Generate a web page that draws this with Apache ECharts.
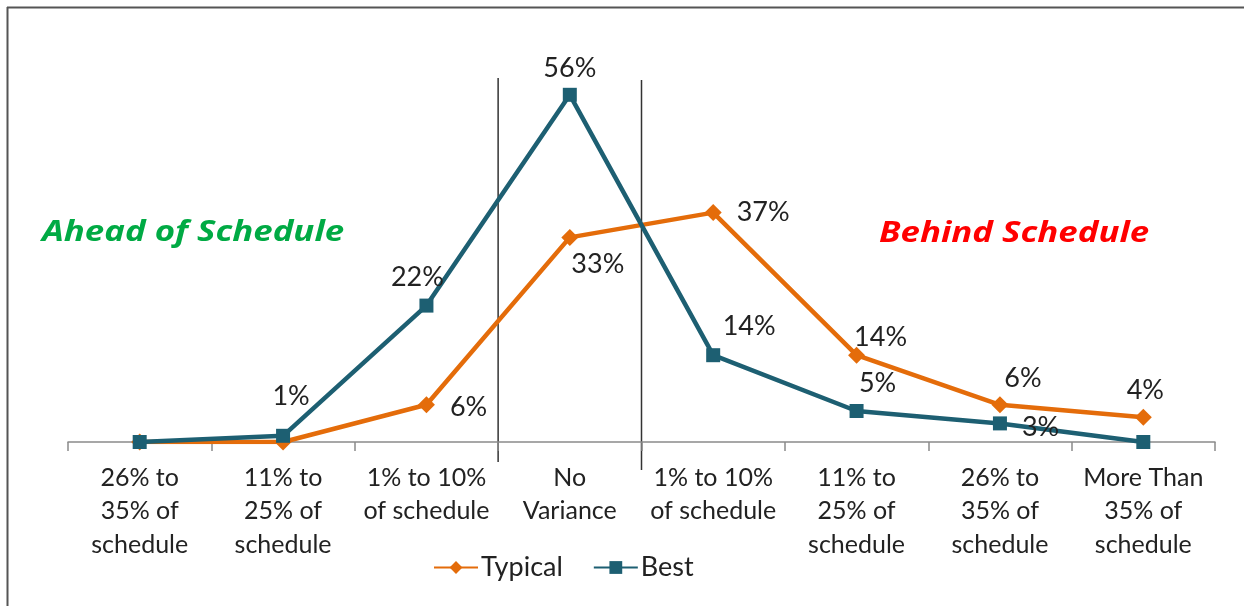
<!DOCTYPE html>
<html>
<head>
<meta charset="utf-8">
<script src="https://cdn.jsdelivr.net/npm/echarts@6/dist/echarts.min.js"></script>
<style>
  html, body { margin: 0; padding: 0; background: #fff; }
  #main { width: 1244px; height: 606px; }
</style>
</head>
<body>
<div id="main"></div>
<script>
// 数据
var categories = ['26% to\n35% of\nschedule', '11% to\n25% of\nschedule', '1% to 10%\nof schedule', 'No\nVariance',
                  '1% to 10%\nof schedule', '11% to\n25% of\nschedule', '26% to\n35% of\nschedule', 'More Than\n35% of\nschedule'];
var typical = [0, 0, 6, 33, 37, 14, 6, 4];
var best = [0, 1, 22, 56, 14, 5, 3, 0];

var fontFam = 'Lato, "Open Sans", sans-serif';
var orange = '#E46C0A';
var teal = '#1D5F72';

// 每个点标签的位置
var typicalLabel = [
    {show: false}, {show: false},
    {position: 'right', offset: [10, 2]},
    {position: 'bottom', offset: [28, 0]},
    {position: 'right', offset: [10, 0]},
    {position: 'top', offset: [24, 9]},
    {position: 'top', offset: [23, 0]},
    {position: 'top', offset: [2, 0]}
];
var bestLabel = [
    {show: false},
    {position: 'top', offset: [8, -14]},
    {position: 'top', offset: [-9, -3]},
    {position: 'top', offset: [0, -1]},
    {position: 'top', offset: [36, -3]},
    {position: 'top', offset: [21, -2]},
    {position: 'right', offset: [10, 4]},
    {show: false}
];

function build(values, labels) {
    return values.map(function (v, i) {
        return {value: v, label: labels[i]};
    });
}

var myChart = echarts.init(document.getElementById('main'));

var option = {
    animation: false,
    textStyle: {fontFamily: fontFam},
    grid: {left: 68, right: 29, top: 70, bottom: 164},
    legend: {
        bottom: 20,
        left: 428,
        itemWidth: 44,
        itemHeight: 16,
        itemGap: 30,
        textStyle: {fontSize: 27, color: '#222', fontFamily: fontFam, padding: [0, 0, 0, -2]},
        data: ['Typical', 'Best']
    },
    xAxis: {
        type: 'category',
        data: categories,
        axisLine: {lineStyle: {color: '#8a8a8a', width: 1.5}},
        axisTick: {show: true, length: 9, lineStyle: {color: '#8a8a8a', width: 1.5}},
        axisLabel: {
            interval: 0,
            color: '#222',
            fontSize: 25,
            lineHeight: 33.5,
            margin: 19,
            fontFamily: fontFam
        }
    },
    yAxis: {
        type: 'value',
        min: 0,
        max: 60,
        show: false
    },
    series: [
        {
            name: 'Typical',
            type: 'line',
            data: build(typical, typicalLabel),
            symbol: 'diamond',
            symbolSize: 17,
            lineStyle: {color: orange, width: 4.5},
            itemStyle: {color: orange},
            label: {show: true, formatter: '{c}%', fontSize: 27, color: '#222', fontFamily: fontFam},
            z: 3
        },
        {
            name: 'Best',
            type: 'line',
            data: build(best, bestLabel),
            symbol: 'rect',
            symbolSize: 14,
            lineStyle: {color: teal, width: 4.5},
            itemStyle: {color: teal},
            label: {show: true, formatter: '{c}%', fontSize: 27, color: '#222', fontFamily: fontFam},
            z: 4
        }
    ]
};

myChart.setOption(option);

// 分隔线和文字注释
var x1 = (myChart.convertToPixel({xAxisIndex: 0}, 2) + myChart.convertToPixel({xAxisIndex: 0}, 3)) / 2;
var x2 = (myChart.convertToPixel({xAxisIndex: 0}, 3) + myChart.convertToPixel({xAxisIndex: 0}, 4)) / 2;

myChart.setOption({
    graphic: [
        {type: 'line', shape: {x1: 7, y1: 7.5, x2: 1244, y2: 7.5}, style: {stroke: '#555', lineWidth: 2}},
        {type: 'line', shape: {x1: 7.5, y1: 7, x2: 7.5, y2: 606}, style: {stroke: '#555', lineWidth: 2}},
        {type: 'line', shape: {x1: x1, y1: 78, x2: x1, y2: 462}, style: {stroke: '#333', lineWidth: 1.5}},
        {type: 'line', shape: {x1: x2, y1: 80, x2: x2, y2: 470}, style: {stroke: '#333', lineWidth: 1.5}},
        {type: 'text', x: 42, y: 218, scaleX: 1.2, style: {text: 'Ahead of Schedule', fill: '#00AA44',
            font: 'italic bold 29px "Open Sans", sans-serif'}},
        {type: 'text', x: 879, y: 219, scaleX: 1.2, style: {text: 'Behind Schedule', fill: '#FF0000',
            font: 'italic bold 29px "Open Sans", sans-serif'}}
    ]
});
</script>
</body>
</html>
